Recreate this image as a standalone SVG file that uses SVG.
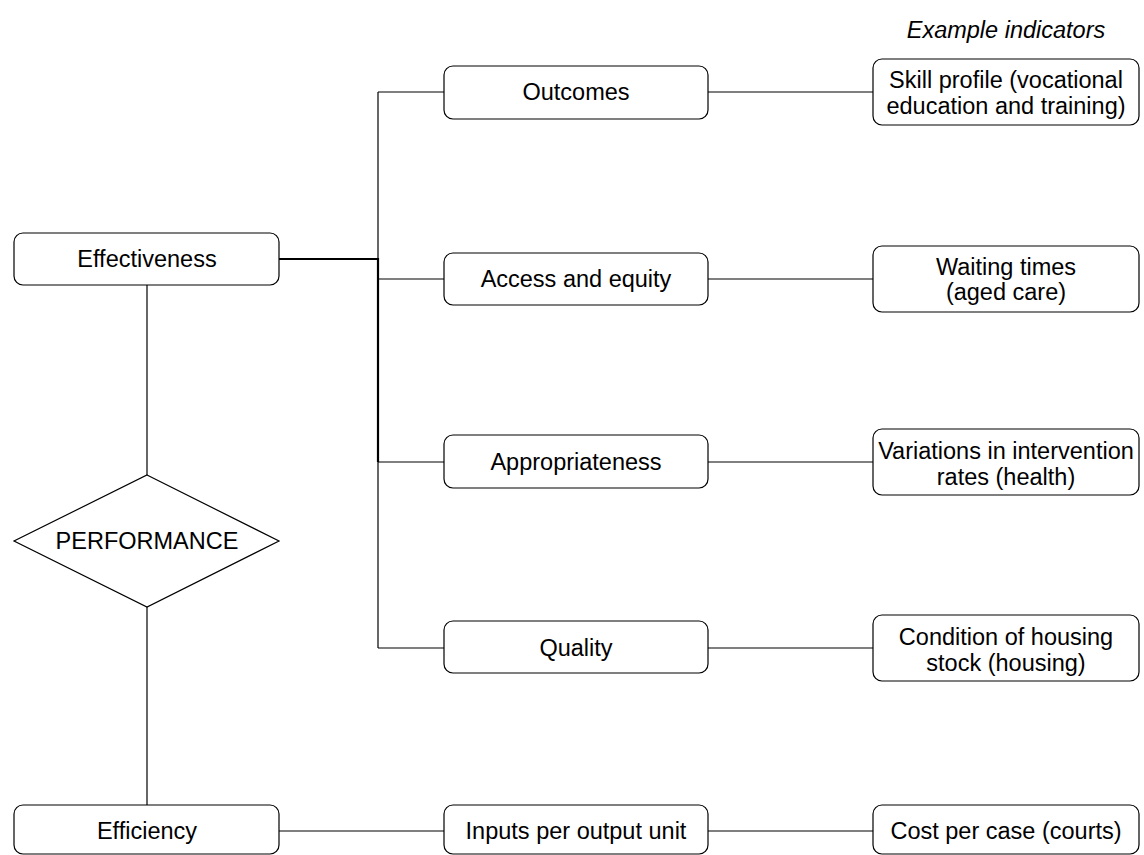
<svg xmlns="http://www.w3.org/2000/svg" width="1144" height="855" viewBox="0 0 1144 855">
<style>
  .box { fill: #fff; stroke: #000; stroke-width: 1.2; }
  .t { font-family: "Liberation Sans", Arial, sans-serif; font-size: 23.5px; fill: #000; text-anchor: middle; }
  .ti { font-style: italic; }
  .c { stroke: #000; stroke-width: 1.2; fill: none; }
  .ck { stroke: #000; stroke-width: 2.2; fill: none; }
</style>
<rect width="1144" height="855" fill="#fff"/>
<g id="connectors">
  <line class="c" x1="378" y1="92" x2="378" y2="648"/>
  <line class="ck" x1="279" y1="259" x2="378" y2="259"/>
  <line class="ck" x1="378" y1="258" x2="378" y2="462"/>
  <line class="c" x1="378" y1="92" x2="444" y2="92"/>
  <line class="c" x1="378" y1="279" x2="444" y2="279"/>
  <line class="c" x1="378" y1="462" x2="444" y2="462"/>
  <line class="c" x1="378" y1="648" x2="444" y2="648"/>
  <line class="c" x1="708" y1="92" x2="873" y2="92"/>
  <line class="c" x1="708" y1="279" x2="873" y2="279"/>
  <line class="c" x1="708" y1="462" x2="873" y2="462"/>
  <line class="c" x1="708" y1="648" x2="873" y2="648"/>
  <line class="c" x1="147" y1="285" x2="147" y2="475"/>
  <line class="c" x1="147" y1="607" x2="147" y2="805"/>
  <line class="c" x1="279" y1="831" x2="444" y2="831"/>
  <line class="c" x1="708" y1="831" x2="873" y2="831"/>
</g>
<text class="t ti" x="1006" y="38">Example indicators</text>
<g id="effectiveness">
  <rect class="box" x="14" y="233" width="265" height="52" rx="9"/>
  <text class="t" x="147" y="267">Effectiveness</text>
</g>
<g id="performance">
  <polygon class="box" points="147,475 279,541 147,607 14,541"/>
  <text class="t" x="147" y="549">PERFORMANCE</text>
</g>
<g id="efficiency">
  <rect class="box" x="14" y="805" width="265" height="49" rx="9"/>
  <text class="t" x="147" y="839">Efficiency</text>
</g>
<g id="outcomes">
  <rect class="box" x="444" y="66" width="264" height="53" rx="9"/>
  <text class="t" x="576" y="100">Outcomes</text>
</g>
<g id="access">
  <rect class="box" x="444" y="253" width="264" height="52" rx="9"/>
  <text class="t" x="576" y="287">Access and equity</text>
</g>
<g id="appropriateness">
  <rect class="box" x="444" y="435" width="264" height="53" rx="9"/>
  <text class="t" x="576" y="470">Appropriateness</text>
</g>
<g id="quality">
  <rect class="box" x="444" y="621" width="264" height="52" rx="9"/>
  <text class="t" x="576" y="656">Quality</text>
</g>
<g id="inputs">
  <rect class="box" x="444" y="805" width="264" height="49" rx="9"/>
  <text class="t" x="576" y="839">Inputs per output unit</text>
</g>
<g id="skill">
  <rect class="box" x="873" y="59" width="266" height="66" rx="9"/>
  <text class="t" x="1006" y="88">Skill profile (vocational</text>
  <text class="t" x="1006" y="114">education and training)</text>
</g>
<g id="waiting">
  <rect class="box" x="873" y="246" width="266" height="66" rx="9"/>
  <text class="t" x="1006" y="275">Waiting times</text>
  <text class="t" x="1006" y="300">(aged care)</text>
</g>
<g id="variations">
  <rect class="box" x="873" y="429" width="266" height="66" rx="9"/>
  <text class="t" x="1006" y="459">Variations in intervention</text>
  <text class="t" x="1006" y="485">rates (health)</text>
</g>
<g id="condition">
  <rect class="box" x="873" y="615" width="266" height="66" rx="9"/>
  <text class="t" x="1006" y="645">Condition of housing</text>
  <text class="t" x="1006" y="671">stock (housing)</text>
</g>
<g id="cost">
  <rect class="box" x="873" y="805" width="266" height="49" rx="9"/>
  <text class="t" x="1006" y="839">Cost per case (courts)</text>
</g>
</svg>
